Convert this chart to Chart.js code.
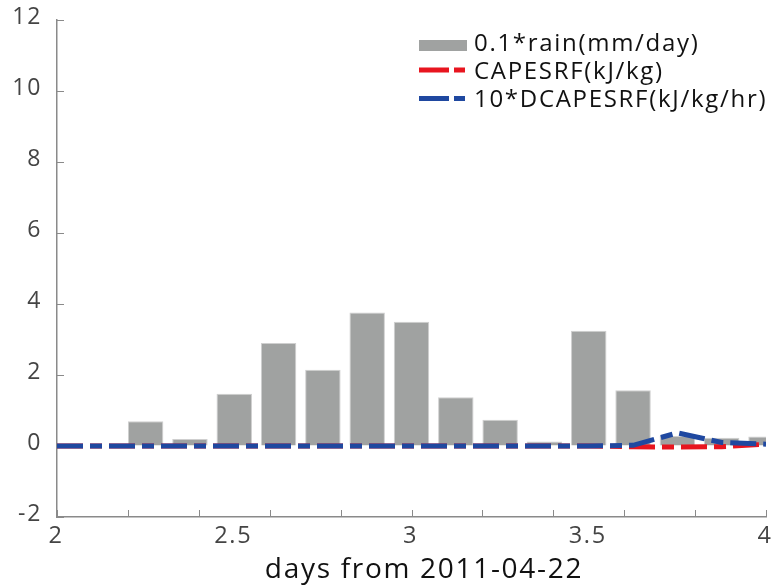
<!DOCTYPE html>
<html><head><meta charset="utf-8">
<script src="https://cdn.jsdelivr.net/npm/chart.js@4/dist/chart.umd.min.js"></script>
<style>html,body{margin:0;padding:0;background:#fff;} #wrap{width:775px;height:586px;}</style>
</head><body><div id="wrap"><canvas id="c" width="775" height="586"></canvas></div>
<script>
// time (days from 2011-04-22)
const days  = [2.000, 2.125, 2.250, 2.375, 2.500, 2.625, 2.750, 2.875, 3.000, 3.125, 3.250, 3.375, 3.500, 3.625, 3.750, 3.875, 4.000];
// 0.1*rain (mm/day)
const rain  = [0, 0, 0.70, 0.20, 1.47, 2.90, 2.15, 3.76, 3.50, 1.37, 0.74, 0.13, 3.25, 1.57, 0.28, 0.23, 0.27];
// CAPESRF (kJ/kg)
const cape  = [0, 0, 0, 0, 0, 0, 0, 0, 0, 0, 0, 0, 0, -0.02, -0.03, -0.02, 0.05];
// 10*DCAPESRF (kJ/kg/hr)
const dcape = [0, 0, 0, 0, 0, 0, 0, 0, 0, 0, 0, 0, 0, 0.02, 0.37, 0.10, 0.05];
const seriesNames = ['0.1*rain(mm/day)', 'CAPESRF(kJ/kg)', '10*DCAPESRF(kJ/kg/hr)'];
const xTitle = 'days from 2011-04-22';
const xMinorTicks = [2.0, 2.2, 2.4, 2.6, 2.8, 3.0, 3.2, 3.4, 3.6, 3.8, 4.0];
const yTickValues = [-2, 0, 2, 4, 6, 8, 10, 12];

const BAR_COLOR = '#a0a2a1', RED = '#e8151f', BLUE = '#1f48a0';
const FONT = '"Open Sans", "DejaVu Sans", sans-serif';
const DASH = [26, 7, 12, 7];
const SPACING = '1.7px';

const pts = arr => days.map((d, i) => ({x: d, y: arr[i]}));

const spacingPlugin = {
  id: 'spacing',
  beforeLayout(chart) { chart.ctx.letterSpacing = SPACING; },
  beforeDraw(chart) { chart.ctx.letterSpacing = SPACING; }
};

const innerTicks = {
  id: 'innerTicks',
  beforeDatasetsDraw(chart) {
    const ctx = chart.ctx, xs = chart.scales.x, ys = chart.scales.y, a = chart.chartArea;
    ctx.save();
    ctx.strokeStyle = '#8a8a8a';
    ctx.lineWidth = 1;
    ctx.beginPath();
    xMinorTicks.forEach(v => {
      const px = Math.round(xs.getPixelForValue(v)) + 0.5;
      ctx.moveTo(px, a.bottom); ctx.lineTo(px, a.bottom - 7);
    });
    yTickValues.forEach(v => {
      const py = Math.round(ys.getPixelForValue(v)) + 0.5;
      ctx.moveTo(a.left, py); ctx.lineTo(a.left + 7, py);
    });
    ctx.stroke();
    ctx.restore();
  }
};

const textPlugin = {
  id: 'customText',
  afterDraw(chart) {
    const ctx = chart.ctx;
    const x0 = 419, x1 = 467, tx = 474;
    ctx.save();
    ctx.fillStyle = BAR_COLOR;
    ctx.fillRect(x0, 40, x1 - x0, 11);
    [[RED, 70], [BLUE, 98.5]].forEach(([c, y]) => {
      ctx.strokeStyle = c; ctx.lineWidth = 5; ctx.lineCap = 'butt';
      ctx.setLineDash([30, 5, 11, 5]);
      ctx.beginPath(); ctx.moveTo(x0, y); ctx.lineTo(x1 - 2, y); ctx.stroke();
    });
    ctx.setLineDash([]);
    ctx.letterSpacing = SPACING;
    ctx.fillStyle = '#111';
    ctx.font = '24px ' + FONT;
    ctx.textAlign = 'left';
    ctx.textBaseline = 'alphabetic';
    ctx.fillText(seriesNames[0], tx, 50.5);
    ctx.fillText(seriesNames[1], tx, 78.5);
    ctx.fillText(seriesNames[2], tx, 107);
    // x-axis title
    ctx.font = '28px ' + FONT;
    ctx.textAlign = 'center';
    ctx.fillText(xTitle, 424, 578);
    ctx.restore();
  }
};

new Chart(document.getElementById('c'), {
  type: 'bar',
  data: {
    datasets: [
      { type: 'line', label: seriesNames[2], data: pts(dcape), borderColor: BLUE, borderWidth: 5,
        borderDash: DASH, borderCapStyle: 'butt', pointRadius: 0, tension: 0, fill: false, order: 0 },
      { type: 'line', label: seriesNames[1], data: pts(cape), borderColor: RED, borderWidth: 5,
        borderDash: DASH, borderCapStyle: 'butt', pointRadius: 0, tension: 0, fill: false, order: 1 },
      { type: 'bar', label: seriesNames[0], data: pts(rain), backgroundColor: BAR_COLOR,
        borderColor: '#cfcfcf', borderWidth: 1, barPercentage: 1.0, categoryPercentage: 0.8, order: 2 }
    ]
  },
  options: {
    responsive: false,
    animation: false,
    devicePixelRatio: 1,
    layout: { padding: { left: 0, right: 9, top: 20, bottom: 0 } },
    plugins: { legend: { display: false }, tooltip: { enabled: false } },
    scales: {
      x: {
        type: 'linear', min: 2, max: 4, offset: false,
        grid: { display: true, drawOnChartArea: false, drawTicks: true, tickLength: 5, color: 'rgba(0,0,0,0)' },
        border: { display: true, color: '#8a8a8a', width: 1.5 },
        ticks: { stepSize: 0.5, padding: 0, labelOffset: -1, color: '#444', font: { family: FONT, size: 23.5 }, maxRotation: 0,
                 callback: v => String(v) },
        title: { display: false },
        afterFit: s => { s.height = 69; }
      },
      y: {
        min: -2, max: 12,
        grid: { display: true, drawOnChartArea: false, drawTicks: true, tickLength: 15, color: 'rgba(0,0,0,0)' },
        border: { display: true, color: '#8a8a8a', width: 1.5 },
        ticks: { stepSize: 2, padding: 0, labelOffset: -3, color: '#444', font: { family: FONT, size: 23 } },
        afterFit: s => { s.width = 57; }
      }
    }
  },
  plugins: [spacingPlugin, innerTicks, textPlugin]
});
</script></body></html>
